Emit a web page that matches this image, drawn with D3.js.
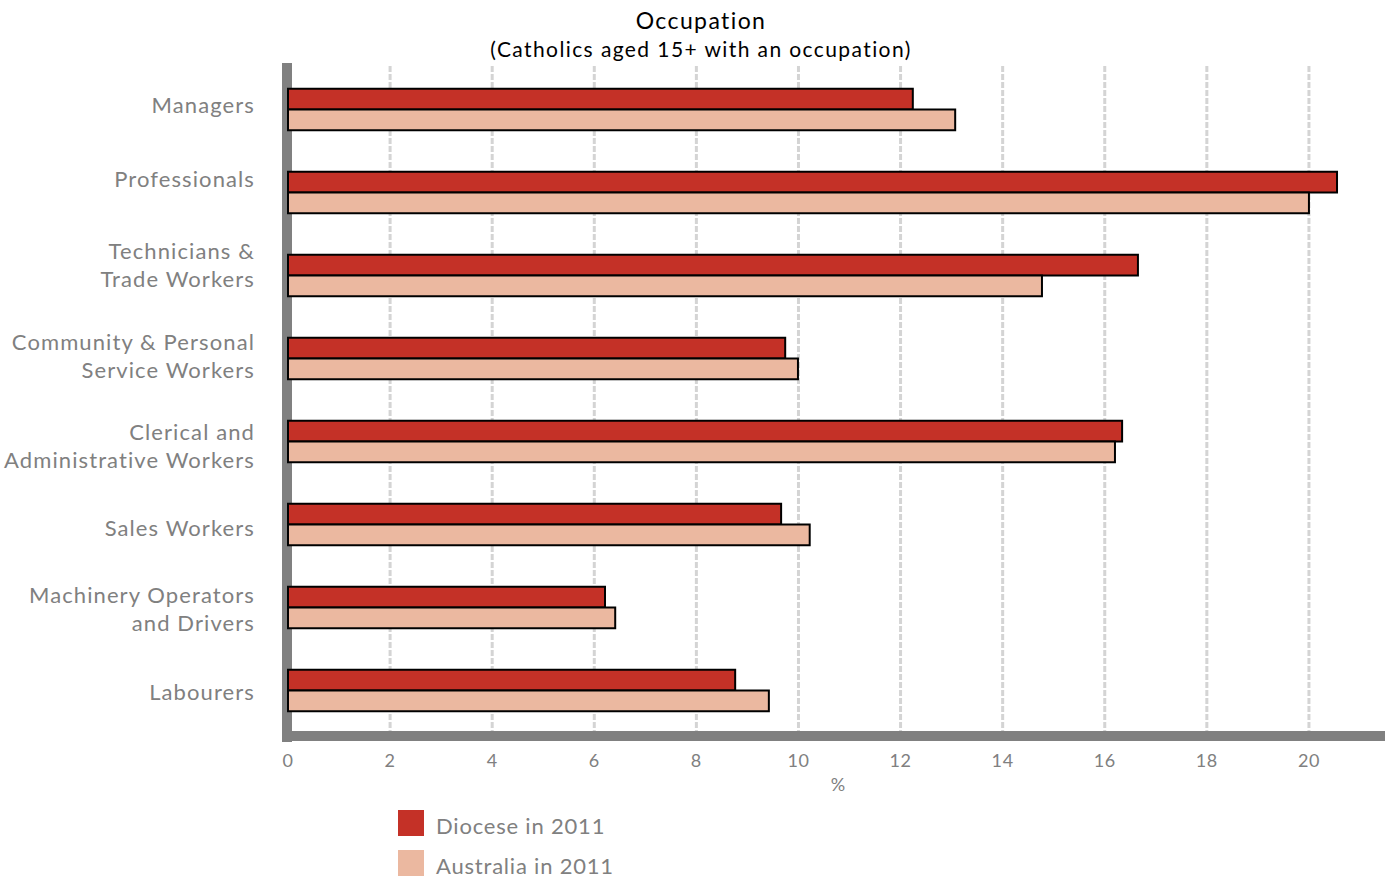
<!DOCTYPE html>
<html>
<head>
<meta charset="utf-8">
<script src="https://cdn.jsdelivr.net/npm/d3@7"></script>
<style>
  body { margin: 0; background: #fff; }
  text { font-family: Lato, "Open Sans", sans-serif; }
</style>
</head>
<body>
<div id="chart"></div>
<script>
// data
var categories = [
  ["Managers"],
  ["Professionals"],
  ["Technicians &", "Trade Workers"],
  ["Community & Personal", "Service Workers"],
  ["Clerical and", "Administrative Workers"],
  ["Sales Workers"],
  ["Machinery Operators", "and Drivers"],
  ["Labourers"]
];
var diocese2011 = [12.24, 20.55, 16.65, 9.74, 16.34, 9.66, 6.21, 8.76];
var australia2011 = [13.07, 20.0, 14.77, 9.99, 16.2, 10.22, 6.41, 9.42];
var seriesNames = ["Diocese in 2011", "Australia in 2011"];
var seriesColors = ["#c43127", "#ebb8a0"];
var xTicks = [0, 2, 4, 6, 8, 10, 12, 14, 16, 18, 20];

var width = 1391, height = 878;
var x0 = 288, plotTop = 68, plotBottom = 732;
// the original's labels don't sit exactly on the bar centres
var labelNudge = [-5, -14, -11, -3, 4, 3, 1, 1];

var svg = d3.select("#chart").append("svg")
  .attr("width", width)
  .attr("height", height);

var x = d3.scaleLinear().domain([0, 21.49]).range([x0, 1385]);
var y = d3.scaleBand()
  .domain(d3.range(categories.length))
  .range([plotTop, plotBottom])
  .paddingInner(0.5).paddingOuter(0.25);
var ySub = d3.scaleBand().domain([0, 1]).range([0, y.bandwidth()]);

// title
svg.append("text").attr("x", 701).attr("y", 29)
  .attr("text-anchor", "middle").attr("font-size", 23).attr("fill", "#000")
  .attr("letter-spacing", 1.4)
  .text("Occupation");
svg.append("text").attr("x", 701).attr("y", 57)
  .attr("text-anchor", "middle").attr("font-size", 21).attr("fill", "#000")
  .attr("letter-spacing", 1.4)
  .text("(Catholics aged 15+ with an occupation)");

// gridlines
svg.append("g").selectAll("line")
  .data(xTicks.filter(function(d) { return d > 0; }))
  .enter().append("line")
  .attr("x1", function(d) { return x(d); })
  .attr("x2", function(d) { return x(d); })
  .attr("y1", 66).attr("y2", 731)
  .attr("stroke", "#d4d4d4")
  .attr("stroke-width", 3)
  .attr("stroke-dasharray", "6,2");

// axis lines (thick grey)
svg.append("rect").attr("x", 282).attr("y", 63).attr("width", 10).attr("height", 679)
  .attr("fill", "#808080");
svg.append("rect").attr("x", 282).attr("y", 731).attr("width", 1385 - 282).attr("height", 10)
  .attr("fill", "#808080");

// bars
var groups = svg.append("g").selectAll("g")
  .data(categories)
  .enter().append("g")
  .attr("transform", function(d, i) { return "translate(0," + y(i) + ")"; });

groups.selectAll("rect")
  .data(function(d, i) { return [diocese2011[i], australia2011[i]]; })
  .enter().append("rect")
  .attr("x", x(0))
  .attr("y", function(d, j) { return ySub(j); })
  .attr("width", function(d) { return x(d) - x(0); })
  .attr("height", ySub.bandwidth())
  .attr("fill", function(d, j) { return seriesColors[j]; })
  .attr("stroke", "#000")
  .attr("stroke-width", 2);

// category labels
groups.append("text")
  .attr("text-anchor", "end")
  .attr("font-size", 22)
  .attr("letter-spacing", 1.1)
  .attr("fill", "#808080")
  .each(function(d, i) {
    var t = d3.select(this);
    var n = d.length;
    d.forEach(function(line, k) {
      t.append("tspan")
        .attr("x", 255)
        .attr("y", y.bandwidth() / 2 + 8 + labelNudge[i] + (k - (n - 1) / 2) * 28)
        .text(line);
    });
  });

// x tick labels
svg.append("g").selectAll("text")
  .data(xTicks)
  .enter().append("text")
  .attr("x", function(d) { return x(d); })
  .attr("y", 767)
  .attr("text-anchor", "middle")
  .attr("font-size", 18)
  .attr("letter-spacing", 0.6)
  .attr("fill", "#808080")
  .text(function(d) { return d; });

svg.append("text").attr("x", 838).attr("y", 791)
  .attr("text-anchor", "middle").attr("font-size", 18).attr("fill", "#808080")
  .text("%");

// legend
var legend = svg.append("g").selectAll("g")
  .data(seriesNames)
  .enter().append("g")
  .attr("transform", function(d, i) { return "translate(398," + (810 + i * 40) + ")"; });
legend.append("rect").attr("width", 26).attr("height", 26)
  .attr("fill", function(d, i) { return seriesColors[i]; });
legend.append("text").attr("x", 38).attr("y", 24)
  .attr("font-size", 22).attr("letter-spacing", 0.8).attr("fill", "#808080")
  .text(function(d) { return d; });
</script>
</body>
</html>
